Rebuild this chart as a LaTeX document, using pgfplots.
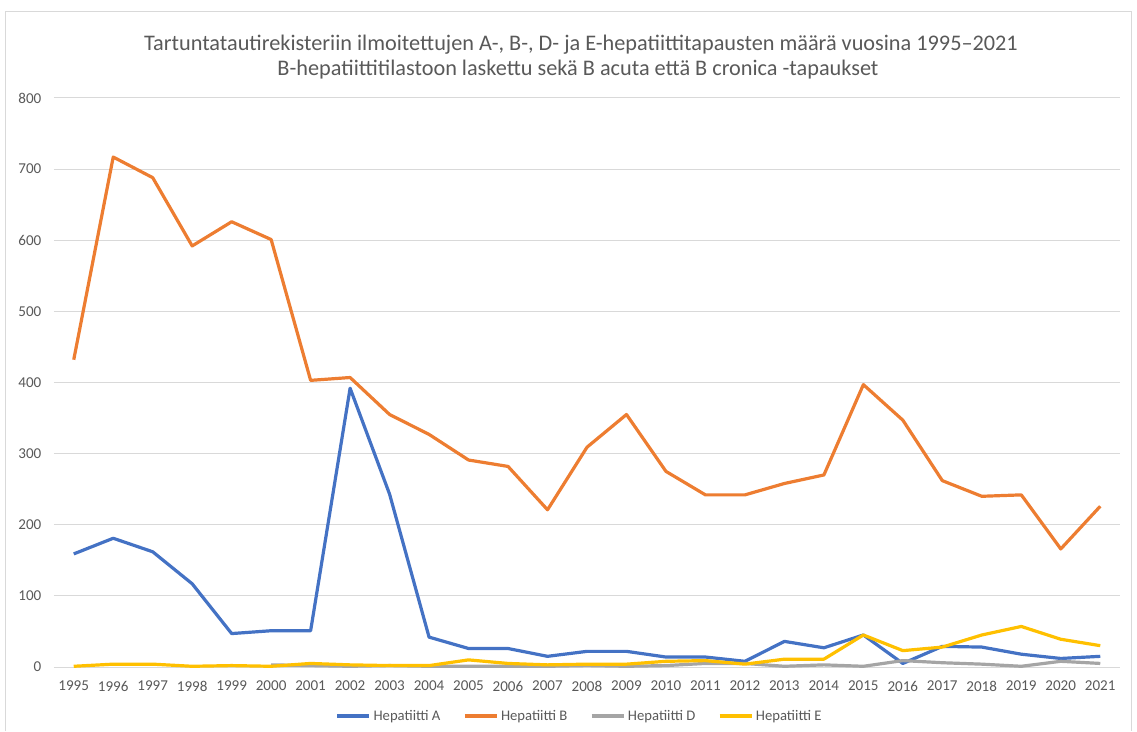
\documentclass[border=0pt]{standalone}
\usepackage{fontspec}
\setmainfont{Carlito}
\usepackage{pgfplots}
\pgfplotsset{compat=1.18}
\definecolor{hA}{HTML}{4472C4}
\definecolor{hB}{HTML}{ED7D31}
\definecolor{hD}{HTML}{A5A5A5}
\definecolor{hE}{HTML}{FFC000}
\definecolor{gridc}{HTML}{D9D9D9}
\definecolor{txt}{HTML}{595959}
\begin{document}
\begin{tikzpicture}[x=0.75pt,y=0.75pt]
\useasboundingbox (0,0) rectangle (1137,731);
% frame round the chart
\draw[gridc, line width=0.75pt] (5,0) -- (5,719) -- (1131,719) -- (1131,0);
\node[txt, font=\fontsize{16.7}{19}\selectfont] at (581,686) {Tartuntatautirekisteriin ilmoitettujen A-, B-, D- ja E-hepatiittitapausten määrä vuosina 1995–2021};
\node[txt, font=\fontsize{16.7}{19}\selectfont] at (578,661) {B-hepatiittitilastoon laskettu sekä B acuta että B cronica -tapaukset};
\begin{axis}[
    at={(40.5pt,48pt)}, anchor=south west,
    width=799.5pt, height=426.75pt, scale only axis,
    xmin=1994.5, xmax=2021.5, ymin=0, ymax=800,
    xtick={1995,...,2021}, ytick={0,100,...,800},
    x tick label style={/pgf/number format/1000 sep={}},
    /pgf/number format/assume math mode=true,
    tick label style={txt, font=\fontsize{11.3}{13}\selectfont},
    major tick length=0pt,
    ymajorgrids, grid style={gridc, line width=0.75pt},
    axis x line*=bottom, axis y line*=left,
    x axis line style={gridc, line width=0.75pt, -},
    y axis line style={draw=none},
    yticklabel style={xshift=-6pt},
    xticklabel style={yshift=-7pt},
    every axis plot/.append style={line width=2.4pt, line join=round, no marks},
    legend columns=4,
    legend style={at={(0.4934,-0.0861)}, anchor=center, draw=none, fill=none,
        font=\fontsize{11}{13}\selectfont, text=txt,
        /tikz/every odd column/.append style={column sep=0pt},
        /tikz/every even column/.append style={column sep=15pt}},
    legend image code/.code={\draw[#1] (0pt,0pt) -- (24pt,0pt);},
]
\addplot[hA] coordinates {
 (1995,159) (1996,181) (1997,162) (1998,117) (1999,47) (2000,51) (2001,51)
 (2002,392) (2003,243) (2004,42) (2005,26) (2006,26) (2007,15) (2008,22)
 (2009,22) (2010,14) (2011,14) (2012,8) (2013,36) (2014,27) (2015,45)
 (2016,5) (2017,29) (2018,28) (2019,18) (2020,12) (2021,15)};
\addlegendentry{Hepatiitti A}
\addplot[hB] coordinates {
 (1995,432) (1996,717) (1997,688) (1998,592) (1999,626) (2000,601) (2001,403)
 (2002,407) (2003,355) (2004,327) (2005,291) (2006,282) (2007,221) (2008,309)
 (2009,355) (2010,275) (2011,242) (2012,242) (2013,258) (2014,270) (2015,397)
 (2016,347) (2017,262) (2018,240) (2019,242) (2020,166) (2021,226)};
\addlegendentry{Hepatiitti B}
\addplot[hD] coordinates {
 (2000,3) (2001,2) (2002,1) (2003,2) (2004,1) (2005,1) (2006,1) (2007,1)
 (2008,2) (2009,1) (2010,2) (2011,5) (2012,5) (2013,1) (2014,3) (2015,1)
 (2016,9) (2017,6) (2018,4) (2019,1) (2020,8) (2021,5)};
\addlegendentry{Hepatiitti D}
\addplot[hE] coordinates {
 (1995,1) (1996,4) (1997,4) (1998,1) (1999,2) (2000,1) (2001,5)
 (2002,3) (2003,2) (2004,2) (2005,10) (2006,5) (2007,3) (2008,4)
 (2009,4) (2010,8) (2011,9) (2012,4) (2013,11) (2014,11) (2015,45)
 (2016,23) (2017,28) (2018,45) (2019,57) (2020,39) (2021,30)};
\addlegendentry{Hepatiitti E}
\end{axis}
\end{tikzpicture}
\end{document}
